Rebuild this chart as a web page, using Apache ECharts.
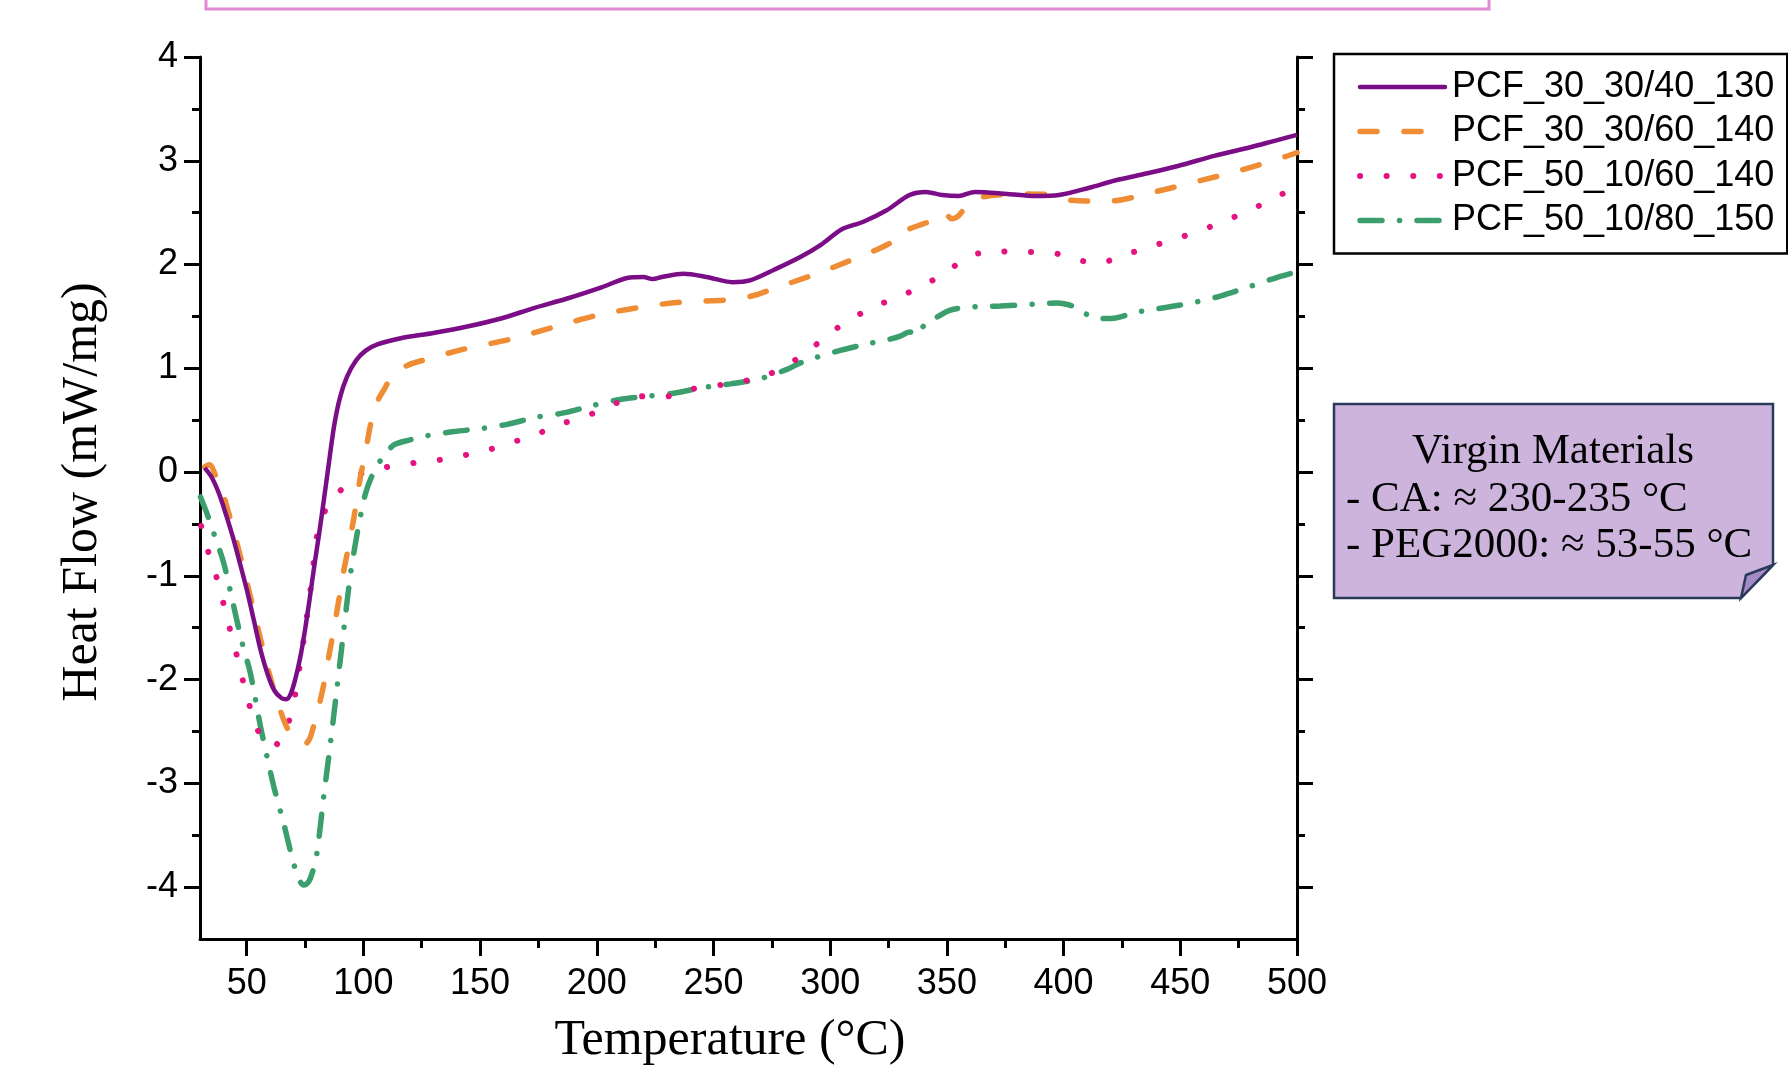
<!DOCTYPE html>
<html>
<head>
<meta charset="utf-8">
<title>DSC heat flow</title>
<script src="https://cdn.jsdelivr.net/npm/echarts@6/dist/echarts.min.js"></script>
<style>
  html, body { margin: 0; padding: 0; background: #fff; }
  #chart { width: 1788px; height: 1070px; }
</style>
</head>
<body>
<div id="chart"></div>
<script>
// series names (legend)
const seriesNames = ['PCF_30_30/40_130', 'PCF_30_30/60_140', 'PCF_50_10/60_140', 'PCF_50_10/80_150'];

// tick values
const xMajorTicks = [50, 100, 150, 200, 250, 300, 350, 400, 450, 500];
const xMinorTicks = [75, 125, 175, 225, 275, 325, 375, 425, 475];
const yMajorTicks = [-4, -3, -2, -1, 0, 1, 2, 3, 4];
const yMinorTicks = [-3.5, -2.5, -1.5, -0.5, 0.5, 1.5, 2.5, 3.5];

// PCF_30_30/40_130 : temperature (°C) / heat flow (mW/mg)
const tempPurple = [32, 35, 38, 41, 44, 47, 50, 53, 56, 59, 62, 65, 67, 69, 71, 73, 75, 77, 79, 81,
  83, 85, 87.5, 90, 93, 97, 101, 106, 116, 130, 144, 159, 173, 187, 202, 213, 220, 224, 228, 237,
  247, 258, 266, 276, 287, 296, 305, 314, 324, 334, 341, 348, 355, 362, 376, 388, 398, 411, 422, 434,
  449, 465, 480, 490, 500];
const flowPurple = [0.04, -0.05, -0.2, -0.4, -0.62, -0.87, -1.13, -1.42, -1.72, -1.95, -2.11, -2.18, -2.19, -2.13, -1.98, -1.78, -1.52, -1.22, -0.9, -0.6,
  -0.28, 0.05, 0.45, 0.72, 0.92, 1.08, 1.17, 1.23, 1.29, 1.34, 1.4, 1.48, 1.58, 1.67, 1.78, 1.87, 1.88, 1.86, 1.88, 1.91,
  1.88, 1.83, 1.85, 1.95, 2.07, 2.19, 2.34, 2.41, 2.52, 2.67, 2.70, 2.67, 2.66, 2.70, 2.68, 2.66, 2.67, 2.74, 2.81, 2.87,
  2.95, 3.05, 3.13, 3.19, 3.25];

// PCF_30_30/60_140
const tempOrange = [32, 34, 37, 40, 43, 46, 49, 52, 55, 58, 61, 64, 67, 70, 73, 75, 77, 79, 81, 83,
  85, 87.3, 89.5, 91.6, 94, 96, 98.7, 101, 103, 106, 109, 113, 119, 126, 144, 163, 182, 200, 219, 237,
  257, 267, 276, 294, 312, 326, 329, 331, 342, 347, 349, 352, 355, 359, 365, 381, 396, 403, 419, 439,
  457, 476, 495, 500];
const flowOrange = [0.05, 0.07, -0.05, -0.22, -0.45, -0.7, -0.96, -1.24, -1.52, -1.8, -2.05, -2.27, -2.45, -2.56, -2.61, -2.62, -2.57, -2.42, -2.25, -2.05,
  -1.8, -1.52, -1.23, -0.95, -0.68, -0.43, -0.05, 0.2, 0.45, 0.68, 0.8, 0.95, 1.03, 1.08, 1.19, 1.28, 1.40, 1.51, 1.59, 1.64,
  1.66, 1.70, 1.77, 1.91, 2.07, 2.21, 2.30, 2.32, 2.41, 2.46, 2.50, 2.44, 2.47, 2.58, 2.65, 2.68, 2.67, 2.62, 2.61, 2.70,
  2.80, 2.91, 3.04, 3.08];

// PCF_50_10/60_140
const tempPink = [30.5, 33.7, 37.3, 40.2, 43, 45.9, 48.7, 51.6, 54, 56, 58, 60, 62, 63.7, 66, 68, 70.9, 72.5, 74.4, 77.3,
  80.1, 82, 84.4, 87, 90.1, 94, 99.4, 110.5, 122.5, 133.5, 145, 156, 167, 177, 187, 199, 209, 220, 231, 241,
  253, 264, 274.5, 285, 293.5, 302.5, 312.5, 321.7, 331.6, 340.8, 350, 358.5, 364, 370, 380.6, 392, 398, 403.5, 409, 414.5,
  420, 425.8, 437, 448, 458, 468.6, 477.7, 488.4, 500];
const flowPink = [-0.52, -0.78, -1.03, -1.28, -1.53, -1.78, -2.04, -2.28, -2.45, -2.54, -2.6, -2.63, -2.64, -2.6, -2.52, -2.41, -2.13, -1.9, -1.62, -1.14,
  -0.62, -0.45, -0.34, -0.25, -0.18, -0.09, -0.01, 0.05, 0.09, 0.12, 0.17, 0.23, 0.31, 0.39, 0.48, 0.57, 0.67, 0.73, 0.73, 0.8,
  0.84, 0.88, 0.95, 1.08, 1.22, 1.38, 1.52, 1.62, 1.71, 1.81, 1.93, 2.07, 2.11, 2.13, 2.12, 2.12, 2.1, 2.06, 2.03, 2.01,
  2.04, 2.09, 2.17, 2.25, 2.32, 2.42, 2.5, 2.62, 2.75];

// PCF_50_10/80_150
const tempGreen = [30.2, 33, 35.9, 40.2, 44.5, 48.1, 51.6, 55.9, 58.7, 61.6, 65.9, 70.1, 72.5, 74.4, 76.5, 78, 80.1, 83, 85.9, 88.7,
  91.6, 94.5, 96.5, 98.7, 101, 104, 107.3, 113, 120, 127.3, 138.7, 150.8, 161.6, 174.4, 185.8, 198, 210, 221.5, 233, 244.4,
  257.2, 270, 281.5, 287, 293.3, 304, 314.8, 325.5, 330, 334, 337, 339, 341, 345.4, 351.5, 359, 373, 388, 397.4, 405,
  412.7, 420.4, 431, 444.8, 457, 467.8, 480, 490.7, 500];
const flowGreen = [-0.24, -0.4, -0.59, -0.88, -1.3, -1.65, -1.94, -2.45, -2.74, -3.03, -3.39, -3.77, -3.93, -3.98, -3.95, -3.87, -3.67, -3.13, -2.61, -2.08,
  -1.52, -0.98, -0.7, -0.43, -0.2, -0.02, 0.11, 0.26, 0.31, 0.35, 0.39, 0.42, 0.46, 0.53, 0.57, 0.64, 0.70, 0.73, 0.76, 0.81,
  0.85, 0.90, 0.99, 1.05, 1.10, 1.17, 1.23, 1.28, 1.31, 1.35, 1.32, 1.38, 1.43, 1.49, 1.56, 1.59, 1.60, 1.62, 1.63, 1.59,
  1.49, 1.48, 1.54, 1.59, 1.64, 1.70, 1.79, 1.87, 1.93];

const noteLines = ['Virgin Materials', '- CA: \u2248 230-235 \u00B0C', '- PEG2000: \u2248 53-55 \u00B0C'];

function pairs(xs, ys) {
  return xs.map((x, i) => [x, ys[i]]);
}

const sansFont = "'Liberation Sans', Arial, sans-serif";
const serifFont = "'Liberation Serif', 'Times New Roman', serif";

function xAxisDef(ticks, len, labels) {
  return {
    type: 'value', min: 30, max: 500, position: 'bottom',
    axisLine: { show: labels, onZero: false, lineStyle: { color: '#000', width: 3 } },
    axisTick: { show: true, inside: false, length: len, customValues: ticks, lineStyle: { color: '#000', width: 3 } },
    axisLabel: { show: labels, customValues: ticks, margin: 27, fontSize: 36, color: '#000', fontFamily: sansFont },
    splitLine: { show: false }, minorTick: { show: false }
  };
}

function yAxisDef(pos, ticks, len, labels, line) {
  return {
    type: 'value', min: -4.5, max: 4, position: pos,
    axisLine: { show: line, onZero: false, lineStyle: { color: '#000', width: 3 } },
    axisTick: { show: true, inside: false, length: len, customValues: ticks, lineStyle: { color: '#000', width: 3 } },
    axisLabel: { show: labels, customValues: ticks, margin: 22, fontSize: 36, color: '#000', fontFamily: sansFont },
    splitLine: { show: false }, minorTick: { show: false }
  };
}

const chart = echarts.init(document.getElementById('chart'));

const option = {
  backgroundColor: '#fff',
  animation: false,
  grid: { left: 200, right: 491, top: 57, bottom: 131, containLabel: false, outerBoundsMode: 'none' },
  xAxis: [
    xAxisDef(xMajorTicks, 17, true),
    xAxisDef(xMinorTicks, 9, false)
  ],
  yAxis: [
    yAxisDef('left', yMajorTicks, 16, true, true),
    yAxisDef('left', yMinorTicks, 8, false, false),
    yAxisDef('right', yMajorTicks, 16, false, true),
    yAxisDef('right', yMinorTicks, 8, false, false)
  ],
  legend: {
    orient: 'vertical',
    left: 1334, top: 54,
    padding: [15, 13, 15, 23],
    itemWidth: 85, itemHeight: 14, itemGap: 8.5,
    backgroundColor: '#fff',
    borderColor: '#000', borderWidth: 2.5, borderRadius: 0,
    itemStyle: { opacity: 0 },
    lineStyle: { width: 'inherit', type: 'inherit', cap: 'round' },
    textStyle: { fontSize: 36, color: '#000', fontFamily: sansFont, padding: [0, 0, 0, 2] },
    data: seriesNames
  },
  series: [
    {
      name: seriesNames[0], type: 'line', data: pairs(tempPurple, flowPurple),
      showSymbol: false, symbol: 'none', smooth: 0.3,
      lineStyle: { color: '#7b0d86', width: 4.5 }, itemStyle: { color: '#7b0d86' }, z: 5
    },
    {
      name: seriesNames[1], type: 'line', data: pairs(tempOrange, flowOrange),
      showSymbol: false, symbol: 'none', smooth: 0.3,
      lineStyle: { color: '#ef8d34', width: 5.5, type: [17, 27], cap: 'round' }, itemStyle: { color: '#ef8d34' }, z: 4
    },
    {
      name: seriesNames[2], type: 'line', data: pairs(tempPink, flowPink),
      showSymbol: false, symbol: 'none', smooth: 0.3,
      lineStyle: { color: '#e3147f', width: 6, type: [0.1, 26.5], cap: 'round' }, itemStyle: { color: '#e3147f' }, z: 3
    },
    {
      name: seriesNames[3], type: 'line', data: pairs(tempGreen, flowGreen),
      showSymbol: false, symbol: 'none', smooth: 0.3,
      lineStyle: { color: '#3a9e6d', width: 5.5, type: [22, 17.5, 0.1, 17.4], cap: 'round' }, itemStyle: { color: '#3a9e6d' }, z: 2
    }
  ],
  graphic: [
    // cut-off pink frame at the top
    { type: 'rect', shape: { x: 206, y: -20, width: 1283, height: 29 },
      style: { fill: '#fff', stroke: '#e28bd3', lineWidth: 3 } },
    // axis titles
    { type: 'text', x: 730, y: 1041,
      style: { text: 'Temperature (\u00B0C)', font: '50px ' + serifFont, fill: '#000', textAlign: 'center', textVerticalAlign: 'middle' } },
    { type: 'text', x: 83, y: 492, rotation: Math.PI / 2,
      style: { text: 'Heat Flow (mW/mg)', font: '50px ' + serifFont, fill: '#000', textAlign: 'center', textVerticalAlign: 'middle' } },
    // note box with folded corner
    { type: 'polygon', shape: { points: [[1334, 404], [1773, 404], [1773, 565], [1741, 598], [1334, 598]] },
      style: { fill: '#ccb4dc', stroke: '#2b3a5b', lineWidth: 2.5 } },
    { type: 'polygon', shape: { points: [[1773, 565], [1746, 575], [1741, 598]] },
      style: { fill: '#a48ac6', stroke: '#2b3a5b', lineWidth: 2.5 } },
    { type: 'text', x: 1553, y: 452,
      style: { text: noteLines[0], font: '43px ' + serifFont, fill: '#000', textAlign: 'center', textVerticalAlign: 'middle' } },
    { type: 'text', x: 1346, y: 500,
      style: { text: noteLines[1], font: '43px ' + serifFont, fill: '#000', textAlign: 'left', textVerticalAlign: 'middle' } },
    { type: 'text', x: 1346, y: 546,
      style: { text: noteLines[2], font: '43px ' + serifFont, fill: '#000', textAlign: 'left', textVerticalAlign: 'middle' } }
  ]
};

chart.setOption(option);
</script>
</body>
</html>
